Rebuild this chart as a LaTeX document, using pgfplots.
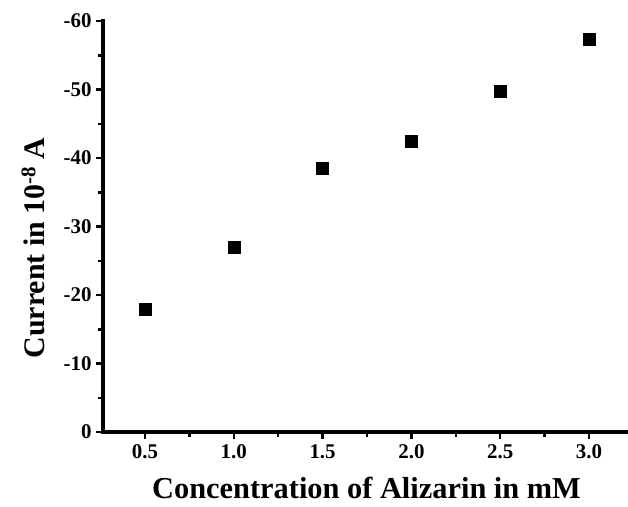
\documentclass[border=0pt]{standalone}
\usepackage{pgfplots}
\pgfplotsset{compat=1.18}
\usepackage{fontspec}
\setmainfont{Liberation Serif}
\begin{document}
\begin{tikzpicture}
\begin{axis}[
  at={(0,0)}, anchor=south west,
  scale only axis,
  width=525bp, height=411bp,
  xmin=0.2635, xmax=3.2196,
  ymin=-60, ymax=0,
  y dir=reverse,
  axis x line*=bottom,
  axis y line*=left,
  axis line style={line width=3.5bp, line cap=rect},
  xtick={0.5,1.0,1.5,2.0,2.5,3.0},
  minor xtick={0.75,1.25,1.75,2.25,2.75},
  ytick={-60,-50,-40,-30,-20,-10,0},
  minor ytick={-55,-45,-35,-25,-15,-5},
  tick align=outside,
  major tick length=7bp,
  minor tick length=4.5bp,
  every tick/.style={black, line width=2.5bp},
  xticklabel style={font=\fontsize{21}{21}\selectfont\bfseries, /pgf/number format/fixed, /pgf/number format/fixed zerofill, /pgf/number format/precision=1, /pgf/number format/assume math mode=true, yshift=-2bp},
  yticklabel style={font=\fontsize{21}{21}\selectfont\bfseries, /pgf/number format/assume math mode=true, xshift=-1bp},
  xlabel={Concentration of Alizarin in mM},
  xlabel style={font=\fontsize{30.5}{30.5}\selectfont\bfseries, at={(axis description cs:0.502,-0.162)}, anchor=base, inner sep=0pt},
  ylabel={Current in 10\textsuperscript{-8} A},
  ylabel style={font=\fontsize{30}{30}\selectfont\bfseries, at={(axis description cs:-0.133,0.448)}, anchor=center},
  clip=false,
]
\addplot[only marks, mark=square*, mark size=6bp, black] coordinates {
  (0.5,-18.0) (1.0,-27.0) (1.5,-38.5) (2.0,-42.5) (2.5,-49.8) (3.0,-57.4)
};
\end{axis}
\pgfresetboundingbox
\path (-103bp,-75bp) rectangle (525bp,432bp);
\end{tikzpicture}
\end{document}
